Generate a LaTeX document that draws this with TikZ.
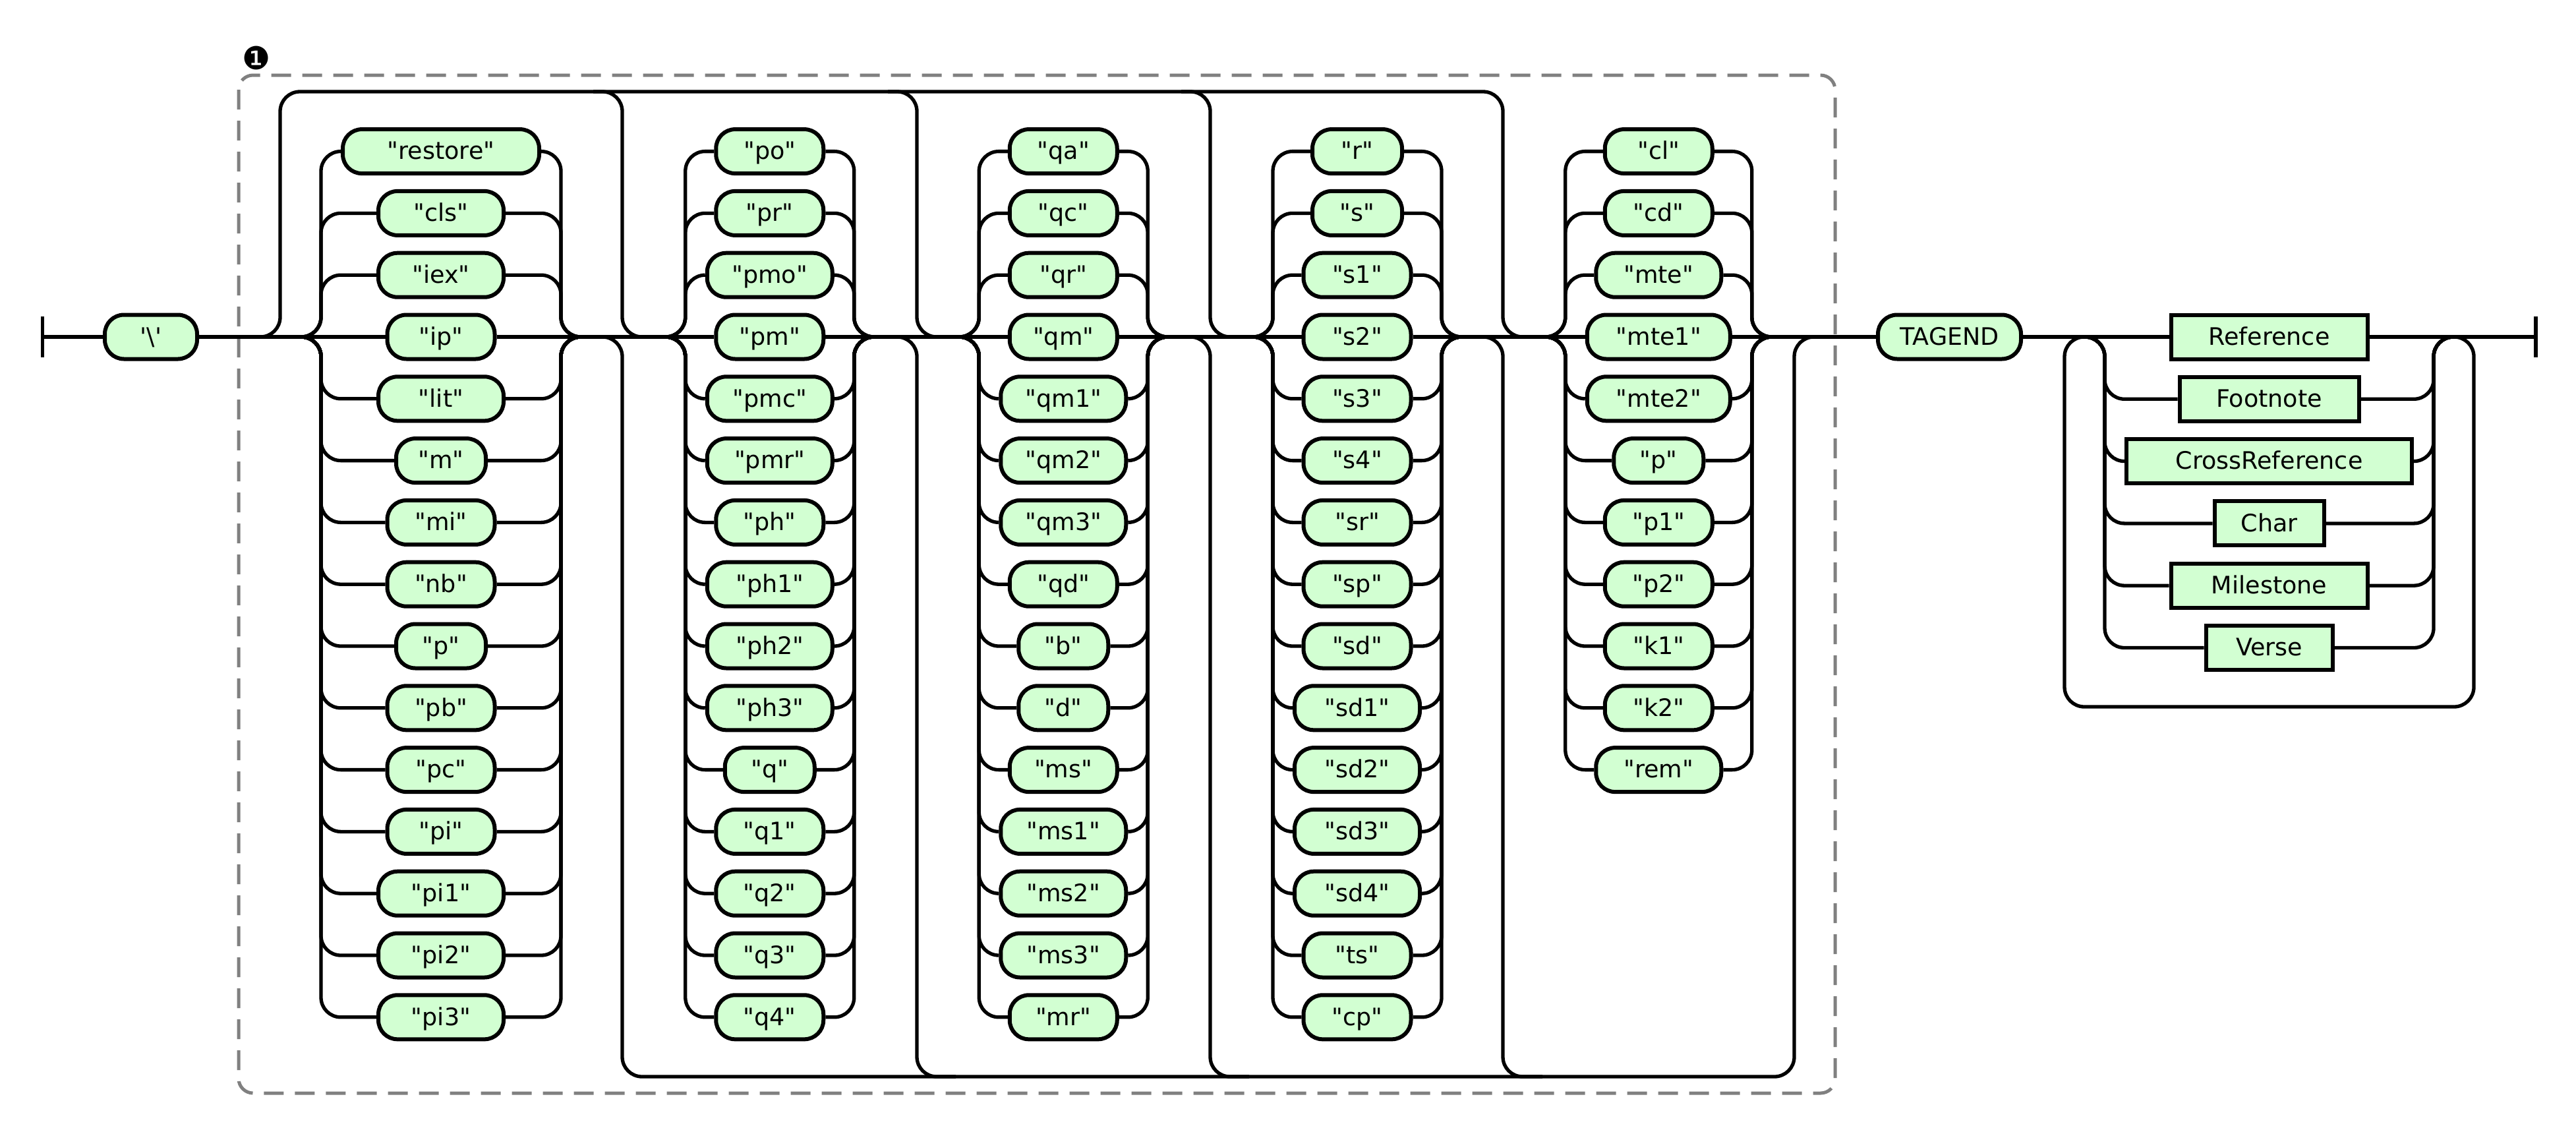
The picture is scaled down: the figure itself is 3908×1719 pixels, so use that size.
\documentclass[tikz,border=0pt]{standalone}
\usepackage{fontspec}
\newfontfamily\rrf{DejaVu Sans}
\definecolor{nodefill}{RGB}{210,255,210}
\definecolor{boxgray}{RGB}{128,128,128}
\tikzset{
  rr/.style={line width=5.3pt, rounded corners=30pt},
  tm/.style={draw, line width=6pt, fill=nodefill, rounded corners=29pt, minimum height=67pt,
    inner sep=0pt, outer sep=3pt, font=\rrf\fontsize{36.5}{44}\selectfont,
    text height=24.4pt, text depth=0pt},
  nt/.style={tm, sharp corners},
  dashbox/.style={draw=boxgray, line width=5pt, dash pattern=on 30pt off 17pt, rounded corners=22pt},
}
% #1 id, #2 centre x, #3 left rail x, #4 right rail x, #5 list text/chars
\newcommand\rrgroup[5]{%
  \coordinate (#1jl) at (#3-30,511);
  \coordinate (#1rl) at (#3,511);
  \coordinate (#1rr) at (#4,511);
  \coordinate (#1jr) at (#4+30,511);
  \foreach \tx/\nn [count=\kk from 0] in {#5} {
    \pgfmathsetmacro\ww{55+27*\nn}
    \pgfmathsetmacro\yy{511+(\kk-3)*93.8}
    \node[tm, minimum width=\ww pt] (#1n\kk) at (#2,\yy) {"\tx"};
    \ifnum\kk=3\relax
      \draw[rr] (#1jl) -- (#1n\kk.west);
      \draw[rr] (#1n\kk.east) -- (#1jr);
    \else
      \draw[rr] (#1jl) -| (#1rl |- #1n\kk.west) -- (#1n\kk.west);
      \draw[rr] (#1n\kk.east) -| (#1rr) -- (#1jr);
    \fi
  }%
}
\begin{document}
\begin{tikzpicture}[x=1pt,y=-1pt]
\useasboundingbox (0,0) rectangle (3908,1719);
% dashed group box and its label
\draw[dashbox] (362,114) rectangle (2784,1658);
\node[font=\rrf\fontsize{48}{48}\selectfont, inner sep=0pt] (lbl) at (389,88) {❶};

% start
\coordinate (st) at (64.5,511);
\coordinate (stA) at (64.5,480);
\coordinate (stB) at (64.5,542);
\draw[line width=5.3pt] (stA) -- (stB);
\node[tm, minimum width=140pt] (bs) at (229,511) {'\textbackslash'};
\draw[rr] (st) -- (bs.west);

% key coordinates of the wide choice
\coordinate (split) at (380,511);
\coordinate (topA) at (425,139);
\coordinate (topB) at (2280,139);
\coordinate (tl1) at (900,139);  \coordinate (v1m) at (944,511);
\coordinate (tl2) at (1347,139); \coordinate (v2m) at (1391,511);
\coordinate (tl3) at (1792,139); \coordinate (v3m) at (1836,511);
\coordinate (bb1) at (944,1633);
\coordinate (bb2) at (1391,1633); \coordinate (bb2e) at (1450,1633);
\coordinate (bb3) at (1836,1633); \coordinate (bb3e) at (1895,1633);
\coordinate (bb4) at (2280,1633); \coordinate (bb4e) at (2340,1633);
\coordinate (v5m) at (2722,511);

% groups
\rrgroup{ga}{669}{487}{851}{restore/9,cls/5,iex/5,ip/4,lit/5,m/3,mi/4,nb/4,p/3,pb/4,pc/4,pi/4,pi1/5,pi2/5,pi3/5}
\rrgroup{gb}{1167.75}{1039.75}{1295.75}{po/4,pr/4,pmo/5,pm/4,pmc/5,pmr/5,ph/4,ph1/5,ph2/5,ph3/5,q/3,q1/4,q2/4,q3/4,q4/4}
\rrgroup{gc}{1613.25}{1485.25}{1741.25}{qa/4,qc/4,qr/4,qm/4,qm1/5,qm2/5,qm3/5,qd/4,b/3,d/3,ms/4,ms1/5,ms2/5,ms3/5,mr/4}
\rrgroup{gd}{2059}{1931}{2187}{r/3,s/3,s1/4,s2/4,s3/4,s4/4,sr/4,sp/4,sd/4,sd1/5,sd2/5,sd3/5,sd4/5,ts/4,cp/4}
\rrgroup{ge}{2516.25}{2374.75}{2657.75}{cl/4,cd/4,mte/5,mte1/6,mte2/6,p/3,p1/4,p2/4,k1/4,k2/4,rem/5}

\node[tm, minimum width=217pt] (tag) at (2957.5,511) {TAGEND};

% main line between groups
\draw[rr] (bs.east) -- (gajl);
\draw[rr] (gajr) -- (gbjl);
\draw[rr] (gbjr) -- (gcjl);
\draw[rr] (gcjr) -- (gdjl);
\draw[rr] (gdjr) -- (gejl);
\draw[rr] (gejr) -- (tag.west);

% top bypass lines
\draw[rr] (split) -| (topA) -- (topB) |- (gejl);
\draw[rr] (tl1) -| (v1m) -- (gbjl);
\draw[rr] (tl2) -| (v2m) -- (gcjl);
\draw[rr] (tl3) -| (v3m) -- (gdjl);

% bottom exit lines
\draw[rr] (gajr) -| (bb1) -| (v5m) -- (tag.west);
\draw[rr] (gbjr) -| (bb2) -- (bb2e);
\draw[rr] (gcjr) -| (bb3) -- (bb3e);
\draw[rr] (gdjr) -| (bb4) -- (bb4e);

% final choice loop
\coordinate (rjl) at (3163,511);
\coordinate (rrl) at (3193,511);
\coordinate (rrr) at (3692,511);
\coordinate (rjr) at (3722,511);
\coordinate (lpA) at (3753,1072);
\coordinate (lpB) at (3132,511);
\node[nt, minimum width=298pt] (ref) at (3442.5,511) {Reference};
\node[nt, minimum width=272pt] (fn) at (3442.5,605.3) {Footnote};
\node[nt, minimum width=433pt] (cr) at (3442.5,699.6) {CrossReference};
\node[nt, minimum width=166pt] (ch) at (3442.5,793.9) {Char};
\node[nt, minimum width=298pt] (ms) at (3442.5,888.2) {Milestone};
\node[nt, minimum width=192pt] (vs) at (3442.5,982.5) {Verse};
\draw[rr] (tag.east) -- (rjl);
\draw[rr] (rjl) -- (ref.west);
\draw[rr] (ref.east) -- (rjr);
\foreach \m in {fn,cr,ch,ms,vs} {
  \draw[rr] (rjl) -| (rrl |- \m.west) -- (\m.west);
  \draw[rr] (\m.east) -| (rrr) -- (rjr);
}
\draw[rr] (rjr) -| (lpA) -| (lpB) -- (rjl);

% end
\coordinate (en) at (3847,511);
\coordinate (enA) at (3847,480);
\coordinate (enB) at (3847,542);
\draw[rr] (rjr) -- (en);
\draw[line width=5.3pt] (enA) -- (enB);
\end{tikzpicture}
\end{document}
